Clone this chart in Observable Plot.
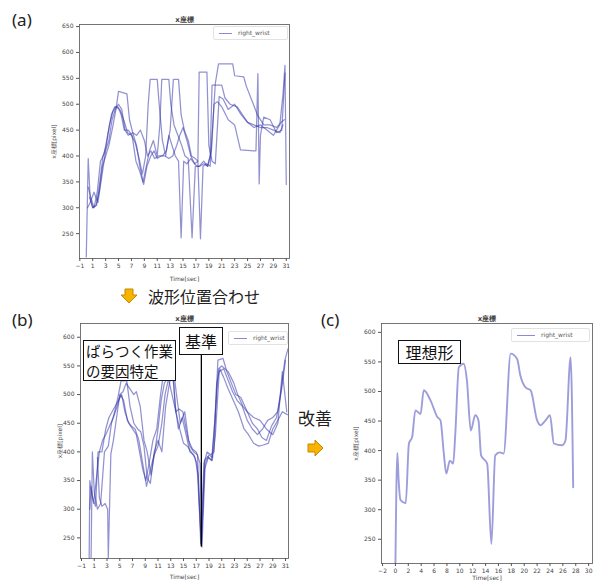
<!DOCTYPE html>
<html><head><meta charset="utf-8">
<script src="https://cdn.jsdelivr.net/npm/d3@7"></script>
<script src="https://cdn.jsdelivr.net/npm/@observablehq/plot@0.6"></script>
<style>
body{margin:0;background:#fff;}
#page{position:relative;width:596px;height:581px;overflow:hidden;background:#fff;font-family:"Noto Sans CJK JP","Noto Sans",sans-serif;}
.panel{position:absolute;}
.tag{position:absolute;font-size:17px;line-height:20px;color:#222;font-family:"Noto Sans","Noto Sans CJK JP",sans-serif;}
.box{position:absolute;box-sizing:border-box;border:1px solid #111;background:#fff;color:#111;display:flex;align-items:center;justify-content:center;text-align:left;}
.legend{position:absolute;box-sizing:border-box;border:1px solid #e2e2e2;border-radius:2px;background:#fff;font:6px "DejaVu Sans",sans-serif;color:#555;}
.legend .ln{position:absolute;height:0;border-top:1.2px solid #8a8ad6;}
.legend .tx{position:absolute;white-space:nowrap;}
</style></head>
<body><div id="page"></div>
<script>
// ---------- data ----------
const chartTitle = "x座標";
const yLabel = "x座標[pixel]";
const xLabel = "Time[sec]";
const seriesName = "right_wrist";
const ticksAX = [-1,1,3,5,7,9,11,13,15,17,19,21,23,25,27,29,31];
const ticksAY = [250,300,350,400,450,500,550,600,650];
const ticksBX = [-1,1,3,5,7,9,11,13,15,17,19,21,23,25,27,29,31];
const ticksBY = [250,300,350,400,450,500,550,600];
const ticksCX = [-2,0,2,4,6,8,10,12,14,16,18,20,22,24,26,28,30];
const ticksCY = [250,300,350,400,450,500,550,600];

// (a) raw trials, not aligned
const a1T = [0,0.3,0.6,1.0,1.6,2.1,2.6,3.1,3.6,4.1,4.6,5.2,5.8,6.4,7.0,7.6,8.2,8.7,9.2,9.6,9.9,11.0,11.3,11.8,12.3,12.8,13.3,13.8,14.3,14.7,15.1,15.6,16.2,16.8,17.3,17.5,18.7,19.0,19.5,20.0,20.6,21.2,22.0,23.0,24.0,25.0,26.0,27.0,28.0,29.0,30.0,30.5];
const a1V = [205,395,320,300,305,350,400,420,460,485,495,490,470,445,440,425,395,365,400,500,548,548,500,430,400,440,420,400,390,242,390,385,395,385,390,562,562,420,390,385,515,510,490,500,480,465,460,455,455,450,445,460];
const a2T = [0.2,0.6,1.2,1.8,2.4,3.0,3.5,4.0,4.5,5.0,5.5,6.0,6.5,7.2,7.8,8.3,8.8,9.3,9.8,10.4,11.0,11.4,11.7,12.8,13.1,13.6,14.2,14.8,15.3,15.8,16.4,16.9,17.5,18.2,18.8,19.2,19.5,21.0,21.5,22.3,23.4,24.2,25.0,26.0,27.0,28.0,29.0,30.0,30.5,30.8,31.0];
const a2V = [300,310,330,310,360,410,430,470,490,500,490,450,440,445,420,380,350,380,410,430,400,460,548,548,500,460,440,420,400,395,242,380,380,390,380,400,537,537,512,500,495,480,465,455,460,450,440,460,520,575,345];
const a3T = [0.5,1.0,1.5,2.0,2.5,3.0,3.5,4.0,4.6,5.0,6.3,6.7,7.2,7.8,8.4,9.0,9.5,10.0,10.6,11.2,11.8,12.4,13.0,13.5,14.3,14.7,15.2,15.8,16.3,16.9,17.3,17.7,18.1,18.6,19.2,19.6,20.0,20.5,22.7,23.0,24.4,24.8,25.9,26.5,27.5,28.5,29.5,30.2,30.7];
const a3V = [320,300,305,330,380,400,420,450,490,525,520,470,445,440,450,430,400,410,395,400,400,410,450,548,548,480,450,430,400,395,390,240,380,385,380,460,540,578,578,555,553,535,500,480,460,460,455,465,470];
const a4T = [0.3,0.7,1.2,1.7,2.2,2.8,3.3,3.9,4.4,4.9,5.4,5.9,6.5,7.1,7.7,8.3,8.9,9.4,10.0,10.5,11.0,11.6,12.2,12.8,13.4,14.0,14.5,15.0,15.6,16.2,16.8,17.2,17.6,18.2,18.8,19.4,19.8,20.3,21.0,22.0,23.0,23.9,26.0,26.3,26.6,26.8,27.0,27.5,28.5,29.5,30.3,30.8];
const a4V = [340,320,300,330,390,405,440,480,495,495,480,450,450,440,390,370,345,380,400,410,395,400,400,395,400,420,440,455,430,400,385,380,380,385,380,410,500,505,495,470,460,412,410,410,559,346,440,475,470,445,450,560];

// (b) trials aligned on the reference dip
const b1T = [0.2,0.3,0.7,1.2,1.6,2.2,2.8,3.3,3.8,4.3,4.8,5.3,5.8,6.4,7.0,7.6,8.1,8.6,9.1,9.6,10.2,10.8,11.4,11.9,12.2,13.3,13.7,14.2,14.8,15.4,16.0,16.6,17.1,17.8,18.3,18.8,19.4,19.9,20.4,21.2,21.8,22.5,23.2,24.0,25.0,26.0,27.0,28.0,29.0,29.8,30.5,31.2];
const b1V = [215,350,320,305,400,400,440,460,470,480,490,500,470,450,440,430,400,370,350,380,420,440,500,540,550,550,480,440,460,430,400,395,380,236,385,392,385,450,560,563,540,520,500,495,470,460,455,440,430,450,540,470];
const b2T = [0.5,0.7,1.0,1.5,2.0,2.6,3.2,3.7,4.2,4.8,5.2,6.1,6.6,7.2,7.8,8.3,8.8,9.3,9.8,10.4,11.0,11.6,12.2,12.8,13.4,13.9,14.5,15.2,15.8,16.4,17.0,17.6,17.9,18.4,19.0,19.5,20.0,20.5,21.0,22.0,22.9,23.5,24.3,25.0,25.8,26.6,27.3,28.0,28.8,29.6,30.2,30.9,31.4];
const b2V = [215,400,330,300,310,400,410,450,470,500,524,524,480,450,440,435,410,355,345,400,420,400,480,520,546,500,450,470,420,405,400,380,234,380,395,390,470,545,550,540,520,500,480,470,450,440,425,420,445,460,500,560,580];
const b3T = [1.5,1.8,2.2,2.7,3.1,3.2,3.6,4.0,4.5,5.0,5.5,6.0,6.6,7.2,7.6,8.2,8.8,9.3,9.9,10.5,11.0,11.5,12.0,12.6,13.2,13.8,14.3,14.9,15.4,16.0,16.6,17.2,17.7,18.2,18.7,19.3,19.8,20.2,20.7,21.3,22.0,22.8,23.6,24.5,25.2,26.0,26.8,27.5,28.3,29.0,29.8,30.5,31.3];
const b3V = [390,320,305,310,300,215,396,420,460,500,505,520,510,500,505,480,420,400,360,400,440,490,520,530,500,470,475,470,440,410,400,395,240,380,400,395,400,520,545,530,510,490,470,440,430,415,410,412,415,440,455,470,465];
const b4T = [0.3,0.5,0.9,1.3,1.8,2.3,2.8,3.4,4.0,4.6,5.1,5.6,6.2,6.8,7.4,8.0,8.6,9.2,9.8,10.4,11.0,11.6,12.1,12.7,13.2,13.8,14.4,15.0,15.6,16.2,16.8,17.3,17.8,18.3,18.9,19.5,20.0,20.6,21.3,22.0,22.7,23.4,24.2,25.0,25.8,26.6,27.4,28.2,29.0,29.8,30.4,31.0];
const b4V = [300,340,310,350,400,420,430,445,460,480,500,490,455,445,440,420,380,340,370,395,410,450,500,530,550,470,440,415,410,400,390,360,238,370,390,385,430,540,545,525,505,490,480,455,440,430,440,455,460,470,510,560];
const baseT = [17.8];
const baseY1 = [234];
const baseY2 = [569];

// (c) ideal waveform
const cT = [0,0.3,0.5,0.8,1.6,2.1,2.6,3.1,3.9,4.4,5.45,6.5,7.0,7.5,7.9,8.45,8.97,9.3,9.85,10.6,11.1,11.7,12.4,12.9,13.3,14.25,14.9,15.5,16.2,16.8,17.9,18.9,19.4,20.2,21.0,22.0,22.5,23.3,24.0,24.6,25.9,26.4,27.2,27.6];
const cV = [205,396,350,316,311,412,423,468,462,502,485,457,451,397,361,383,378,429,541,547,519,434,460,451,392,378,242,392,397,395,564,555,527,507,502,451,443,451,460,412,409,417,558,338];

// ---------- helpers ----------
const rows = (pairs) => pairs.flatMap(([T, V, s]) => T.map((t, i) => ({t, v: V[i], s})));
const dataA = rows([[a1T,a1V,"1"],[a2T,a2V,"2"],[a3T,a3V,"3"],[a4T,a4V,"4"]]);
const dataB = rows([[b1T,b1V,"1"],[b2T,b2V,"2"],[b3T,b3V,"3"],[b4T,b4V,"4"]]);
const dataC = rows([[cT,cV,"c"]]);
const page = document.getElementById("page");

function panel({left, top, width, height, m, xd, yd, xt, yt, data, lineStyle, extra = [], yLabOff, xLabOff}) {
  const svg = Plot.plot({
    width, height,
    marginLeft: m[0], marginRight: m[1], marginTop: m[2], marginBottom: m[3],
    style: {fontSize: "6px", fontFamily: "DejaVu Sans, sans-serif", color: "#555", background: "transparent", overflow: "visible"},
    x: {domain: xd},
    y: {domain: yd},
    marks: [
      Plot.frame({stroke: "#666", strokeWidth: 0.9}),
      Plot.line(data, {x: "t", y: "v", z: "s", clip: true, ...lineStyle}),
      ...extra,
      Plot.axisX({ticks: xt, tickSize: 3, tickPadding: 2, tickFormat: d => String(d).replace("-", "−"),
        label: xLabel, labelAnchor: "center", labelArrow: "none", labelOffset: xLabOff, fill: "#444"}),
      Plot.axisY({ticks: yt, tickSize: 3, tickPadding: 3, tickFormat: d => d,
        label: yLabel, labelAnchor: "center", labelArrow: "none", labelOffset: yLabOff, fill: "#444"}),
      Plot.text([chartTitle], {frameAnchor: "top", dy: -7, fontSize: 7, fontWeight: "bold", fill: "#444"})
    ]
  });
  const wrap = document.createElement("div");
  wrap.className = "panel";
  wrap.style.left = left + "px"; wrap.style.top = top + "px";
  wrap.appendChild(svg);
  page.appendChild(wrap);
}

const blueLines = {stroke: "#2e2ea6", strokeOpacity: 0.52, strokeWidth: 1.25};

panel({left: 30, top: 0, width: 270, height: 290, m: [49, 11, 24, 32],
  xd: [-1.05, 31.5], yd: [202, 654], xt: ticksAX, yt: ticksAY, data: dataA, lineStyle: blueLines,
  yLabOff: 28, xLabOff: 22});

panel({left: 30, top: 300, width: 270, height: 281, m: [50, 12, 23, 23],
  xd: [-1.16, 31.47], yd: [214, 624], xt: ticksBX, yt: ticksBY, data: dataB, lineStyle: blueLines,
  yLabOff: 23, xLabOff: 20,
  extra: [Plot.ruleX(baseT, {x: d => d, y1: () => baseY1[0], y2: () => baseY2[0], stroke: "#000", strokeWidth: 1.3})]});

panel({left: 330, top: 300, width: 266, height: 281, m: [51, 4, 23, 18],
  xd: [-2.16, 30.6], yd: [209, 615], xt: ticksCX, yt: ticksCY, data: dataC,
  lineStyle: {stroke: "#5c5cc4", strokeOpacity: 0.6, strokeWidth: 1.9, curve: "monotone-x"},
  yLabOff: 28, xLabOff: 16});

// ---------- overlays ----------
function add(html, cls, css) {
  const d = document.createElement("div");
  d.className = cls; d.innerHTML = html;
  Object.assign(d.style, css);
  page.appendChild(d);
  return d;
}
function legend(x, y, w, lineW) {
  add(`<div class="ln" style="left:5px;top:6px;width:${lineW}px"></div><div class="tx" style="left:${lineW + 11}px;top:2px">${seriesName}</div>`,
    "legend", {left: x + "px", top: y + "px", width: w + "px", height: "14px"});
}
legend(213, 26, 75, 13);
legend(228, 331, 60, 13);
legend(511, 328, 79, 18);

add("(a)", "tag", {left: "12px", top: "10px"});
add("(b)", "tag", {left: "12px", top: "310px"});
add("(c)", "tag", {left: "321px", top: "310px"});

add("波形位置合わせ", "tag", {left: "148px", top: "286px", fontSize: "16px", fontFamily: "'Noto Sans CJK JP', sans-serif"});
add("改善", "tag", {left: "298px", top: "408px", fontSize: "17px", fontFamily: "'Noto Sans CJK JP', sans-serif"});

// arrows
add(`<svg width="18" height="16"><polygon points="5,1 13,1 13,7 17,7 9,15 1,7 5,7" fill="#f6b400" stroke="#c98600" stroke-width="1"/></svg>`,
  "tag", {left: "120px", top: "288px"});
add(`<svg width="18" height="18"><polygon points="1,5 8,5 8,1 16,9 8,17 8,13 1,13" fill="#f6b400" stroke="#c98600" stroke-width="1"/></svg>`,
  "tag", {left: "307px", top: "439px"});

add("ばらつく作業<br>の要因特定", "box", {left: "83px", top: "340px", width: "93px", height: "41px", fontSize: "14.5px", lineHeight: "20px"});
add("基準", "box", {left: "179px", top: "327px", width: "44px", height: "28px", fontSize: "16px"});
add("理想形", "box", {left: "398px", top: "340px", width: "63px", height: "24px", fontSize: "16px"});
</script>
</body></html>
